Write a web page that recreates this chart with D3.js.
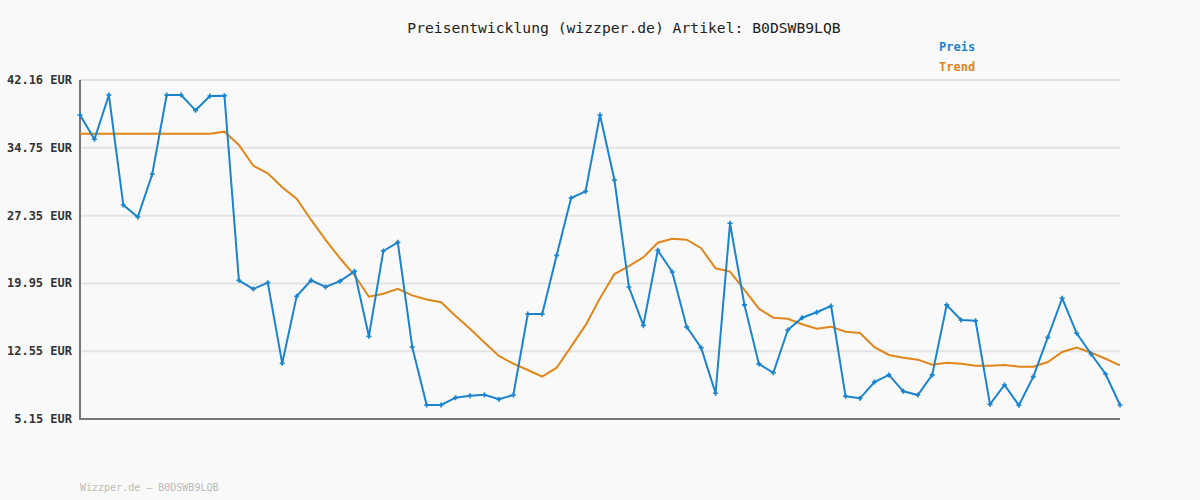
<!DOCTYPE html>
<meta charset="utf-8">
<script src="https://d3js.org/d3.v7.min.js"></script>
<style>
  body { margin: 0; background: #f9f9f9; }
  text { font-family: "DejaVu Sans Mono", monospace; }
</style>
<div id="chart"></div>
<script>
// values
const preis = [38.34, 35.69, 40.52, 28.51, 27.2, 31.87, 40.52, 40.52, 38.85, 40.41,
  40.45, 20.29, 19.34, 20.03, 11.23, 18.55, 20.29, 19.56, 20.2, 21.27,
  14.18, 23.49, 24.44, 13.01, 6.68, 6.68, 7.48, 7.7, 7.8, 7.3,
  7.77, 16.61, 16.61, 23.02, 29.28, 30.0, 38.34, 31.24, 19.56, 15.38,
  23.57, 21.2, 15.2, 12.94, 7.96, 26.52, 17.6, 11.16, 10.2, 14.87,
  16.21, 16.8, 17.49, 7.63, 7.41, 9.19, 9.96, 8.17, 7.77, 9.96,
  17.6, 15.96, 15.88, 6.75, 8.86, 6.65, 9.77, 14.07, 18.33, 14.51,
  12.25, 10.06, 6.68];
const trend = [36.3, 36.3, 36.3, 36.3, 36.3, 36.3, 36.3, 36.3, 36.3, 36.3,
  36.52, 35.06, 32.8, 31.97, 30.45, 29.2, 26.88, 24.7, 22.7, 20.87,
  18.5, 18.83, 19.37, 18.65, 18.2, 17.9, 16.4, 15.0, 13.5, 12.03,
  11.2, 10.5, 9.77, 10.75, 13.05, 15.4, 18.33, 20.98, 21.85, 22.8,
  24.4, 24.83, 24.72, 23.79, 21.6, 21.24, 19.24, 17.2, 16.21, 16.1,
  15.49, 15.0, 15.23, 14.68, 14.54, 13.0, 12.14, 11.84, 11.63, 11.07,
  11.3, 11.19, 10.97, 10.97, 11.05, 10.86, 10.86, 11.37, 12.47, 12.94,
  12.39, 11.73, 11.0];
const yTicks = [5.15, 12.55, 19.95, 27.35, 34.75, 42.16];
const title = "Preisentwicklung (wizzper.de) Artikel: B0DSWB9LQB";

const W = 1200, H = 500;
const margin = {top: 80, right: 80, bottom: 81, left: 80};
const blue = "#1b84cc", orange = "#e0861a";

const svg = d3.select("#chart").append("svg")
  .attr("width", W).attr("height", H)
  .style("background", "#f9f9f9");

const x = d3.scaleLinear().domain([0, preis.length - 1]).range([margin.left, W - margin.right]);
const y = d3.scaleLinear().domain([5.15, 42.16]).range([H - margin.bottom, margin.top]);

// grid
svg.append("g").selectAll("line")
  .data(yTicks.slice(1))
  .join("line")
    .attr("x1", margin.left).attr("x2", W - margin.right)
    .attr("y1", d => y(d)).attr("y2", d => y(d))
    .attr("stroke", "#e3e3e3").attr("stroke-width", 2);

// y labels
svg.append("g").selectAll("text")
  .data(yTicks)
  .join("text")
    .attr("x", 72).attr("y", d => y(d) + 4)
    .attr("text-anchor", "end")
    .attr("font-size", 12).attr("font-weight", "bold")
    .attr("fill", "#333")
    .text(d => d.toFixed(2) + " EUR");

// axes
svg.append("line").attr("x1", margin.left).attr("x2", margin.left)
  .attr("y1", margin.top).attr("y2", y(5.15) + 1)
  .attr("stroke", "#777").attr("stroke-width", 2);
svg.append("line").attr("x1", margin.left - 1).attr("x2", W - margin.right)
  .attr("y1", y(5.15)).attr("y2", y(5.15))
  .attr("stroke", "#777").attr("stroke-width", 2);

const line = d3.line().x((d, i) => x(i)).y(d => y(d));

svg.append("path").datum(trend)
  .attr("d", line).attr("fill", "none")
  .attr("stroke", orange).attr("stroke-width", 2);

svg.append("path").datum(preis)
  .attr("d", line).attr("fill", "none")
  .attr("stroke", blue).attr("stroke-width", 2);

// small cross markers
svg.append("g").selectAll("path")
  .data(preis)
  .join("path")
    .attr("d", d3.symbol(d3.symbolCross, 14))
    .attr("transform", (d, i) => `translate(${x(i)},${y(d)})`)
    .attr("fill", blue);

// title
svg.append("text").attr("x", 624).attr("y", 33)
  .attr("text-anchor", "middle").attr("font-size", 14.7)
  .attr("fill", "#222").text(title);

// legend
svg.append("text").attr("x", 939).attr("y", 51)
  .attr("font-size", 12).attr("font-weight", "bold")
  .attr("fill", blue).text("Preis");
svg.append("text").attr("x", 939).attr("y", 71)
  .attr("font-size", 12).attr("font-weight", "bold")
  .attr("fill", orange).text("Trend");

// footer
svg.append("text").attr("x", 80).attr("y", 491)
  .attr("font-size", 10).attr("fill", "#bbb")
  .text("Wizzper.de – B0DSWB9LQB");
</script>
